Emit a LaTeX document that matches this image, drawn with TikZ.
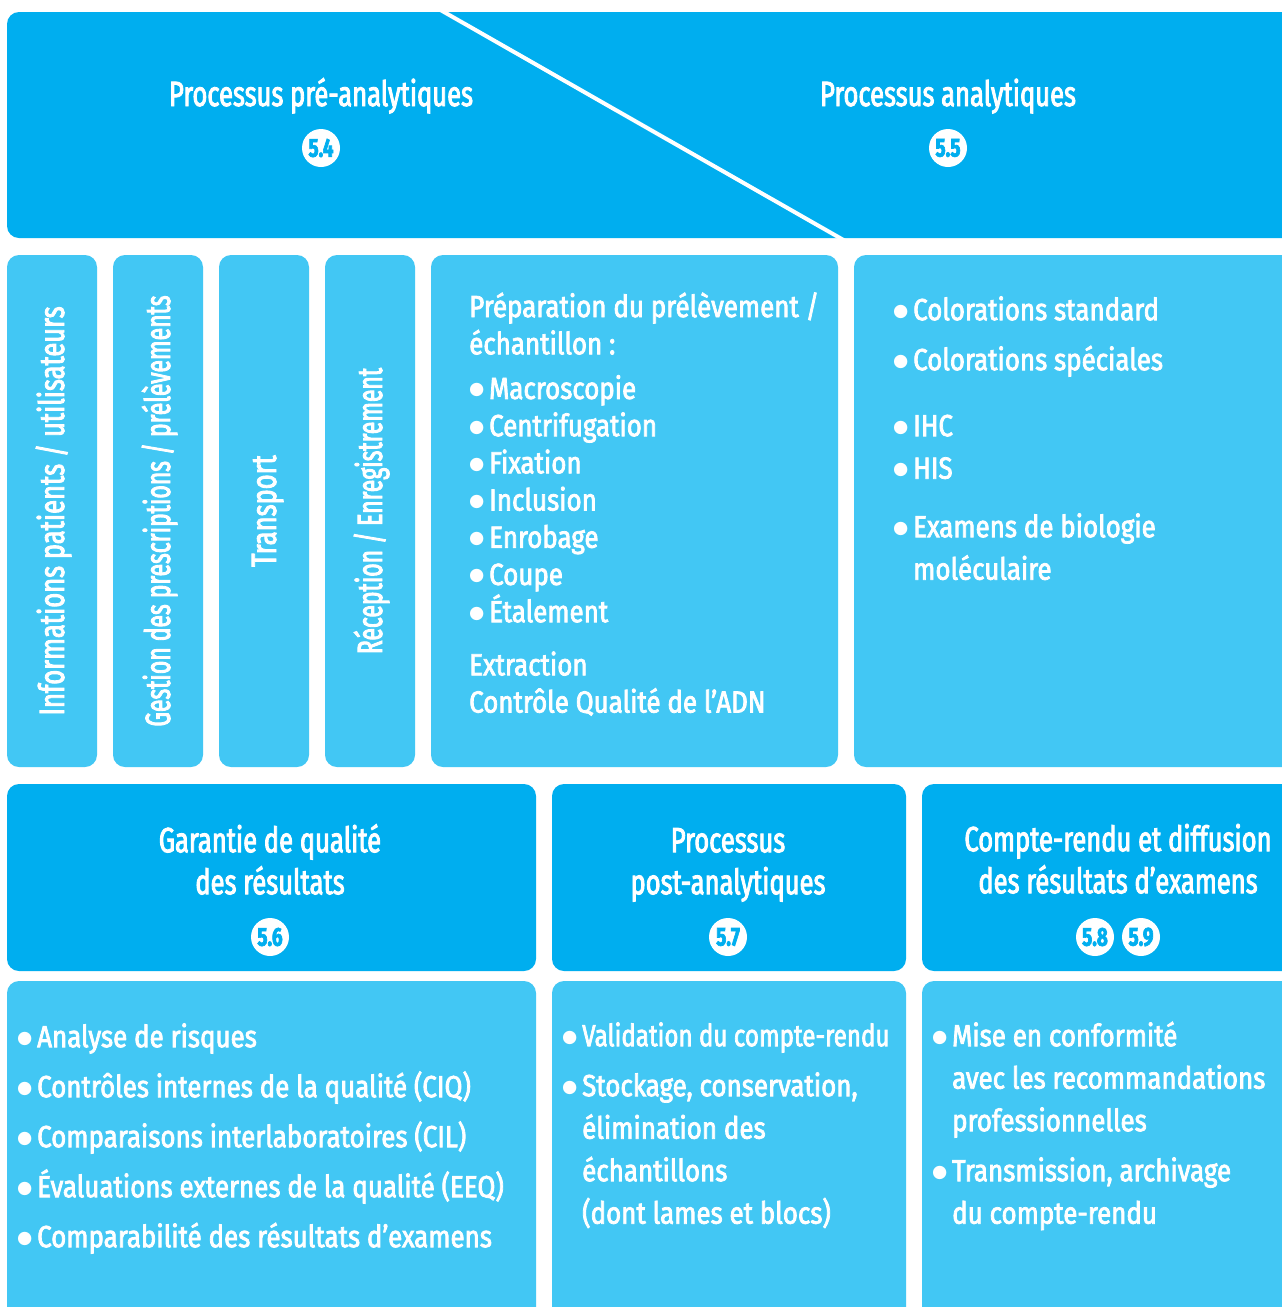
\documentclass[tikz,border=0pt]{standalone}
\usepackage{fontspec}
\setmainfont{Fira Sans}[FakeStretch=0.85,FakeBold=2.5]
\newfontfamily\headfont{Fira Sans}[FakeStretch=0.73,FakeBold=2.5]
\newfontfamily\tightfont{Fira Sans}[FakeStretch=0.655,FakeBold=2.5]
\newfontfamily\dotfont{DejaVu Sans}
\usepackage{graphicx}
\usepackage{tikz}
\usetikzlibrary{positioning}

\definecolor{procblue}{RGB}{0,174,239}
\definecolor{stepblue}{RGB}{66,199,244}

\newcommand{\itm}[1]{\makebox[20pt][l]{\raisebox{4pt}{\dotfont\fontsize{17.5}{17.5}\selectfont ●}}#1}
\newcommand{\ind}{\hspace*{20pt}}

\begin{document}
\begin{tikzpicture}[x=1pt, y=-1pt,
  head/.style={fill=procblue, rounded corners=12pt},
  cell/.style={fill=stepblue, rounded corners=12pt},
  vcell/.style={cell, rotate=90, minimum width=512pt, minimum height=90pt,
                text=white, font=\headfont\fontsize{35}{42}\selectfont,
                text height=24pt, text depth=0pt, inner sep=0pt},
  ttl/.style={text=white, font=\headfont\fontsize{35}{42}\selectfont, align=center, inner sep=0pt},
  lst/.style={text=white, font=\fontsize{30.5}{42.5}\selectfont, align=left,
              anchor=north west, inner sep=0pt},
  num/.style={circle, fill=white, text=procblue, minimum size=38pt, inner sep=0pt,
              font=\headfont\fontsize{26}{26}\selectfont\bfseries}
]
\path[fill=white, use as bounding box] (0,0) rectangle (1282,1307);
\clip (0,0) rectangle (1282,1307);

% phases
\fill[head] (7,12) rectangle (1295,238);
\draw[white, line width=4pt] (437,8) -- (847,242);
\node[ttl, anchor=base] (pre) at (321,106) {Processus pré-analytiques};
\node[num] (n54) at (321,148) {5.4};
\node[ttl, anchor=base] (ana) at (948,106) {Processus analytiques};
\node[num] (n55) at (948,148) {5.5};

% pre-analytic steps
\node[vcell] (info)  at (52,511)  {Informations patients / utilisateurs};
\node[vcell, font=\tightfont\fontsize{35}{42}\selectfont] (presc) at (158,511) {Gestion des prescriptions / prélèvements};
\node[vcell] (trans) at (264,511) {Transport};
\node[vcell, font=\tightfont\fontsize{35}{42}\selectfont] (recep) at (370,511) {Réception / Enregistrement};

\fill[cell] (431,255) rectangle (838,767);
\node[lst, font=\fontsize{30.5}{37.2}\selectfont] (prep) at (469,290.8)
  {\strut Préparation du prélèvement /\\
   échantillon :\\[7.5pt]
   \itm{Macroscopie}\\
   \itm{Centrifugation}\\
   \itm{Fixation}\\
   \itm{Inclusion}\\
   \itm{Enrobage}\\
   \itm{Coupe}\\
   \itm{Étalement}\\[16pt]
   Extraction\\
   Contrôle Qualité de l’ADN};

\fill[cell] (854,255) rectangle (1295,767);
\node[lst] (color) at (893,290.2)
  {\strut\itm{Colorations standard}\\[7.5pt]
   \itm{Colorations spéciales}\\[23.5pt]
   \itm{IHC}\\
   \itm{HIS}\\[16pt]
   \itm{Examens de biologie}\\
   \ind moléculaire};

% post-analytic headers
\fill[head] (7,784) rectangle (536,971);
\node[ttl, anchor=north] (qual) at (270,822.6) {\strut Garantie de qualité\\des résultats};
\node[num] (n56) at (270,937) {5.6};

\fill[head] (552,784) rectangle (906,971);
\node[ttl, anchor=north] (post) at (728,822.6) {\strut Processus\\post-analytiques};
\node[num] (n57) at (728,937) {5.7};

\fill[head] (922,784) rectangle (1295,971);
\node[ttl, anchor=north] (diff) at (1118,821.6) {\strut Compte-rendu et diffusion\\des résultats d’examens};
\node[num] (n58) at (1095,937) {5.8};
\node[num] (n59) at (1141,937) {5.9};

% contents
\fill[cell] (7,981) rectangle (536,1320);
\node[lst] (risk) at (17,1017.2)
  {\strut\itm{Analyse de risques}\\[7.5pt]
   \itm{Contrôles internes de la qualité (CIQ)}\\[7.5pt]
   \itm{Comparaisons interlaboratoires (CIL)}\\[7.5pt]
   \itm{Évaluations externes de la qualité (EEQ)}\\[7.5pt]
   \itm{Comparabilité des résultats d’examens}};

\fill[cell] (552,981) rectangle (906,1320);
\node[lst] (valid) at (562,1016.2)
  {\strut\itm{\scalebox{0.93}[1]{Validation du compte-rendu}}\\[7.5pt]
   \itm{Stockage, conservation,}\\
   \ind élimination des\\
   \ind échantillons\\
   \ind (dont lames et blocs)};

\fill[cell] (922,981) rectangle (1295,1320);
\node[lst] (conf) at (932,1016.2)
  {\strut\itm{Mise en conformité}\\
   \ind avec les recommandations\\
   \ind professionnelles\\[7.5pt]
   \itm{Transmission, archivage}\\
   \ind du compte-rendu};
\end{tikzpicture}
\end{document}
